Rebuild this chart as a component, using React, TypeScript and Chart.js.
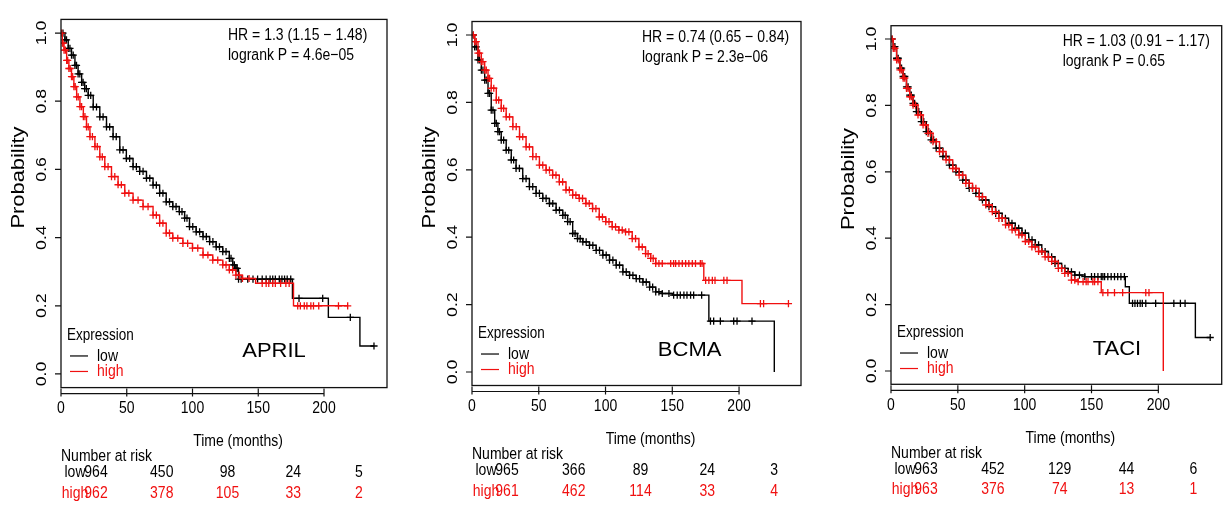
import React, { useEffect, useRef } from "react";
import { Chart, registerables } from "chart.js";
Chart.register(...registerables);

const FONT = '"Liberation Sans", Arial, Helvetica, sans-serif';
const SY = 1.18;
const BLACK = "#000000";
const RED = "#f01010";

const X_TICKS = [0, 50, 100, 150, 200];
const X_TICK_LABELS = ["0", "50", "100", "150", "200"];
const Y_TICKS = [0, 0.2, 0.4, 0.6, 0.8, 1.0];
const Y_TICK_LABELS = ["0.0", "0.2", "0.4", "0.6", "0.8", "1.0"];
const RISK_TIMES = [0, 50, 100, 150, 200];
const GROUP_LABELS = ["low", "high"];

// ---------- APRIL ----------
const APRIL_LOW_T = [0, 3, 5.5, 8, 10.6, 13, 15.7, 18, 20.7, 24.5, 29.5, 34.6, 39.6, 44.7, 49.7, 54.8, 59.8, 65, 70, 75, 80, 85, 90, 94, 97.7, 102.8, 108, 113, 118, 123, 128, 130.6, 133, 135, 176, 203.3, 227.3, 238];
const APRIL_LOW_S = [1, 0.98, 0.955, 0.935, 0.905, 0.88, 0.855, 0.837, 0.817, 0.783, 0.754, 0.725, 0.696, 0.657, 0.632, 0.608, 0.594, 0.574, 0.554, 0.53, 0.505, 0.491, 0.476, 0.457, 0.432, 0.417, 0.403, 0.388, 0.373, 0.359, 0.339, 0.32, 0.31, 0.278, 0.222, 0.166, 0.082, 0.082];
const APRIL_LOW_DENSE = 135;
const APRIL_LOW_CENSOR = [1.5, 4.2, 6.8, 9.3, 11.8, 14.3, 16.8, 19.3, 22.6, 27, 32, 37, 42, 47.2, 52.2, 57.3, 62.4, 67.5, 72.5, 77.5, 82.5, 87.5, 92, 95.8, 100.2, 105.4, 110.5, 115.5, 120.5, 125.5, 129.3, 131.8, 134, 137, 142, 146, 149.5, 153, 156, 159, 161, 163, 166, 168, 170, 172, 174.7, 181, 199, 220, 238];
const APRIL_HIGH_T = [0, 1, 2.3, 4.3, 6, 8, 9.8, 11.9, 14.4, 17, 19.4, 22, 25.8, 29.5, 33.3, 38.4, 43.4, 48.5, 54.8, 62.4, 70, 75, 80, 85, 92.7, 100, 108, 115.4, 123, 128, 133, 138, 148, 176.8, 218];
const APRIL_HIGH_S = [1, 0.97, 0.95, 0.92, 0.896, 0.872, 0.843, 0.813, 0.784, 0.755, 0.725, 0.696, 0.667, 0.637, 0.608, 0.579, 0.555, 0.53, 0.51, 0.491, 0.466, 0.442, 0.413, 0.398, 0.383, 0.369, 0.349, 0.334, 0.32, 0.305, 0.29, 0.28, 0.266, 0.2, 0.2];
const APRIL_HIGH_DENSE = 138;
const APRIL_HIGH_CENSOR = [0.5, 1.6, 3.3, 5.1, 7, 8.9, 10.8, 13.1, 15.7, 18.2, 20.7, 23.9, 27.6, 31.4, 35.8, 40.9, 45.9, 51.6, 58.6, 66.2, 72.5, 77.5, 82.5, 88.8, 96.3, 104, 111.7, 119.2, 125.5, 130.5, 135.5, 143, 153, 156, 158, 161, 163, 167, 171, 173.5, 180, 182, 185, 187, 190, 192, 196, 211, 218];
const APRIL_RISK_LOW = [964, 450, 98, 24, 5];
const APRIL_RISK_HIGH = [962, 378, 105, 33, 2];
const APRIL_STATS = ["HR = 1.3 (1.15 \u2212 1.48)", "logrank P = 4.6e\u221205"];

// ---------- BCMA ----------
const BCMA_LOW_T = [0, 2, 4.5, 7, 9.5, 12, 14.4, 17, 19.4, 21.9, 25.6, 29.4, 33, 38, 43, 48, 53, 58, 63, 68, 71.6, 75.4, 79, 83, 88, 93, 98, 103, 108, 113, 118, 123, 128, 133, 137.6, 142.5, 150, 177.4, 226.4];
const BCMA_LOW_S = [1, 0.965, 0.926, 0.896, 0.866, 0.827, 0.777, 0.738, 0.713, 0.688, 0.658, 0.629, 0.604, 0.574, 0.55, 0.53, 0.515, 0.5, 0.48, 0.465, 0.446, 0.411, 0.396, 0.386, 0.376, 0.361, 0.347, 0.332, 0.317, 0.297, 0.287, 0.277, 0.267, 0.252, 0.238, 0.233, 0.228, 0.151, 0];
const BCMA_LOW_DENSE = 142.5;
const BCMA_LOW_CENSOR = [1, 3.2, 5.7, 8.2, 10.7, 13.2, 15.7, 18.2, 20.6, 23.7, 27.5, 31.2, 35.5, 40.5, 45.5, 50.5, 55.5, 60.5, 65.5, 69.8, 73.5, 77.2, 81, 85.5, 90.5, 95.5, 100.5, 105.5, 110.5, 115.5, 120.5, 125.5, 130.5, 135.3, 140, 147.5, 151, 153.7, 156, 158.7, 161, 163.7, 166, 172, 178.6, 181, 186, 196, 198.5, 209.7];
const BCMA_HIGH_T = [0, 2, 4.5, 7, 9.5, 12, 14.4, 18.2, 21.9, 25.6, 30.6, 35.6, 40.5, 45.5, 50.5, 55.5, 60.4, 65.4, 70.4, 75.4, 80.3, 85.3, 90.3, 95.3, 100.2, 105, 110, 115, 120, 125, 130, 133.8, 137.6, 173.6, 202.2, 237];
const BCMA_HIGH_S = [1, 0.98, 0.946, 0.921, 0.896, 0.871, 0.842, 0.807, 0.782, 0.757, 0.728, 0.698, 0.668, 0.639, 0.614, 0.599, 0.584, 0.564, 0.54, 0.525, 0.515, 0.5, 0.485, 0.46, 0.446, 0.431, 0.421, 0.416, 0.396, 0.371, 0.351, 0.337, 0.322, 0.272, 0.203, 0.203];
const BCMA_HIGH_DENSE = 137.6;
const BCMA_HIGH_CENSOR = [1, 3.2, 5.7, 8.2, 10.7, 13.2, 16.3, 20, 23.7, 28.1, 33.1, 38, 43, 48, 53, 58, 62.9, 67.9, 72.9, 77.8, 82.8, 87.8, 92.8, 97.7, 102.6, 107.5, 112.5, 117.5, 122.5, 127.5, 131.9, 135.7, 140, 142.5, 148.8, 151, 152.5, 155, 157.5, 160, 162.4, 165, 167.4, 171, 172.3, 175, 177.4, 180, 182, 188.6, 191, 216, 218.4, 237];
const BCMA_RISK_LOW = [965, 366, 89, 24, 3];
const BCMA_RISK_HIGH = [961, 462, 114, 33, 4];
const BCMA_STATS = ["HR = 0.74 (0.65 \u2212 0.84)", "logrank P = 2.3e\u221206"];

// ---------- TACI ----------
const TACI_LOW_T = [0, 1.7, 4.2, 6.7, 9.1, 11.6, 14, 16.5, 19, 22.7, 26.4, 30, 33.8, 38.8, 43.7, 48.6, 53.6, 58.5, 63.5, 68.4, 73.3, 78.3, 83.2, 88, 93, 98, 103, 108, 112.8, 117.8, 122.7, 127.7, 132.6, 137.5, 145, 175.3, 178.3, 227.7, 238.8];
const TACI_LOW_S = [1, 0.977, 0.942, 0.912, 0.887, 0.856, 0.831, 0.806, 0.781, 0.751, 0.721, 0.696, 0.671, 0.646, 0.62, 0.6, 0.575, 0.55, 0.535, 0.515, 0.495, 0.475, 0.46, 0.445, 0.43, 0.415, 0.395, 0.38, 0.36, 0.344, 0.324, 0.309, 0.299, 0.289, 0.284, 0.254, 0.204, 0.101, 0.101];
const TACI_LOW_DENSE = 145;
const TACI_LOW_CENSOR = [0.8, 2.9, 5.4, 7.9, 10.3, 12.8, 15.2, 17.7, 20.8, 24.5, 28.2, 31.9, 36.3, 41.2, 46.1, 51.1, 56, 61, 66, 70.8, 75.8, 80.7, 85.6, 90.5, 95.5, 100.5, 105.5, 110.4, 115.3, 120.2, 125.2, 130.1, 135, 141, 150, 152.3, 154.8, 157.3, 158.5, 159.8, 162.2, 164.7, 167.2, 169.6, 172, 174.6, 180.7, 182.5, 184.4, 186.4, 188, 190.6, 198, 211.6, 216.5, 220, 238.8];
const TACI_HIGH_T = [0, 1.7, 4.2, 6.7, 9.1, 11.6, 14, 16.5, 20.2, 24, 27.7, 31.4, 36.3, 41.2, 46.2, 51, 56, 61, 66, 70.9, 75.8, 80.7, 85.7, 90.6, 95.6, 100.5, 105.4, 110.4, 115.3, 120.2, 125.2, 130, 135, 140, 157.3, 203.7];
const TACI_HIGH_S = [1, 0.972, 0.937, 0.907, 0.882, 0.851, 0.826, 0.801, 0.771, 0.741, 0.716, 0.691, 0.661, 0.636, 0.61, 0.59, 0.565, 0.55, 0.525, 0.5, 0.48, 0.46, 0.44, 0.425, 0.41, 0.39, 0.374, 0.36, 0.344, 0.33, 0.309, 0.294, 0.274, 0.269, 0.236, 0];
const TACI_HIGH_DENSE = 140;
const TACI_HIGH_CENSOR = [0.8, 2.9, 5.4, 7.9, 10.3, 12.8, 15.2, 18.3, 22.1, 25.8, 29.5, 33.8, 38.7, 43.7, 48.6, 53.5, 58.5, 63.5, 68.4, 73.3, 78.2, 83.2, 88.1, 93.1, 98, 103, 107.9, 112.8, 117.7, 122.7, 127.6, 132.5, 137.5, 143.7, 146, 147.4, 151, 152.3, 154.8, 158.5, 162.2, 167.2, 173.3, 190.6, 193];
const TACI_RISK_LOW = [963, 452, 129, 44, 6];
const TACI_RISK_HIGH = [963, 376, 74, 13, 1];
const TACI_STATS = ["HR = 1.03 (0.91 \u2212 1.17)", "logrank P = 0.65"];

type Curve = { t: number[]; s: number[]; dense: number; censor: number[]; color: string };
type Panel = {
  left: number;
  width: number;
  pad: { left: number; right: number; top: number; bottom: number };
  xMax: number;
  gene: string;
  geneT: number;
  stats: string[];
  low: Curve;
  high: Curve;
  riskLow: number[];
  riskHigh: number[];
};

const PANELS: Panel[] = [
  {
    left: 0, width: 405,
    pad: { left: 61, right: 18, top: 19.4, bottom: 117.4 },
    xMax: 247.9, gene: "APRIL", geneT: 162, stats: APRIL_STATS,
    low: { t: APRIL_LOW_T, s: APRIL_LOW_S, dense: APRIL_LOW_DENSE, censor: APRIL_LOW_CENSOR, color: BLACK },
    high: { t: APRIL_HIGH_T, s: APRIL_HIGH_S, dense: APRIL_HIGH_DENSE, censor: APRIL_HIGH_CENSOR, color: RED },
    riskLow: APRIL_RISK_LOW, riskHigh: APRIL_RISK_HIGH,
  },
  {
    left: 405, width: 425,
    pad: { left: 67, right: 29, top: 21.5, bottom: 119.5 },
    xMax: 246.4, gene: "BCMA", geneT: 163, stats: BCMA_STATS,
    low: { t: BCMA_LOW_T, s: BCMA_LOW_S, dense: BCMA_LOW_DENSE, censor: BCMA_LOW_CENSOR, color: BLACK },
    high: { t: BCMA_HIGH_T, s: BCMA_HIGH_S, dense: BCMA_HIGH_DENSE, censor: BCMA_HIGH_CENSOR, color: RED },
    riskLow: BCMA_RISK_LOW, riskHigh: BCMA_RISK_HIGH,
  },
  {
    left: 830, width: 397,
    pad: { left: 61, right: 2, top: 25.7, bottom: 120.7 },
    xMax: 247.4, gene: "TACI", geneT: 169, stats: TACI_STATS,
    low: { t: TACI_LOW_T, s: TACI_LOW_S, dense: TACI_LOW_DENSE, censor: TACI_LOW_CENSOR, color: BLACK },
    high: { t: TACI_HIGH_T, s: TACI_HIGH_S, dense: TACI_HIGH_DENSE, censor: TACI_HIGH_CENSOR, color: RED },
    riskLow: TACI_RISK_LOW, riskHigh: TACI_RISK_HIGH,
  },
];

function survAt(c: Curve, t: number): number {
  let v = c.s[0];
  for (let i = 0; i < c.t.length; i++) {
    if (c.t[i] <= t) v = c.s[i];
  }
  return v;
}

function txt(
  ctx: CanvasRenderingContext2D, s: string, x: number, y: number, size: number,
  color: string, align: CanvasTextAlign = "left", sy = SY, rot = false
) {
  ctx.save();
  ctx.translate(x, y);
  ctx.scale(1, sy);
  if (rot) ctx.rotate(-Math.PI / 2);
  ctx.font = `${size}px ${FONT}`;
  ctx.fillStyle = color;
  ctx.textAlign = align;
  ctx.textBaseline = "middle";
  ctx.fillText(s, 0, 0);
  ctx.restore();
}

function makePlugin(p: Panel) {
  return {
    id: "km" + p.gene,
    afterDraw(chart: any) {
      const ctx: CanvasRenderingContext2D = chart.ctx;
      const xs = chart.scales.x;
      const ys = chart.scales.y;
      const a = chart.chartArea;
      const X = (v: number) => xs.getPixelForValue(v);
      const Y = (v: number) => ys.getPixelForValue(v);
      ctx.save();
      // box
      ctx.strokeStyle = "#111";
      ctx.lineWidth = 1.3;
      ctx.strokeRect(a.left, a.top, a.right - a.left, a.bottom - a.top);
      // axis ticks
      ctx.lineWidth = 1.2;
      ctx.beginPath();
      Y_TICKS.forEach((v) => {
        ctx.moveTo(a.left - 6, Y(v));
        ctx.lineTo(a.left, Y(v));
      });
      const ay = a.bottom + 6;
      ctx.moveTo(X(X_TICKS[0]), ay);
      ctx.lineTo(X(X_TICKS[X_TICKS.length - 1]), ay);
      X_TICKS.forEach((v) => {
        ctx.moveTo(X(v), a.bottom + 1);
        ctx.lineTo(X(v), a.bottom + 9);
      });
      ctx.stroke();

      // tick labels
      Y_TICKS.forEach((v, i) => txt(ctx, Y_TICK_LABELS[i], a.left - 19.5, Y(v), 15, BLACK, "center", SY, true));
      X_TICKS.forEach((v, i) => txt(ctx, X_TICK_LABELS[i], X(v), a.bottom + 21, 14, BLACK, "center"));
      // axis titles
      txt(ctx, "Probability", a.left - 42.5, Y(0.5) - 26, 19, BLACK, "center", 1.15, true);
      txt(ctx, "Time (months)", (a.left + a.right) / 2 + 14, a.bottom + 54, 14, BLACK, "center");

      // stats
      txt(ctx, p.stats[0], a.right - 159, Y(1) + 2, 14, BLACK, "left");
      txt(ctx, p.stats[1], a.right - 159, Y(1) + 22, 14, BLACK, "left");

      // gene name
      txt(ctx, p.gene, X(p.geneT), Y(0.065), 22, BLACK, "center", 0.9);

      // legend
      txt(ctx, "Expression", a.left + 6, Y(0) - 38.5, 13.5, BLACK, "left");
      const legY = [Y(0) - 18, Y(0) - 2.5];
      const legC = [BLACK, RED];
      legY.forEach((ly, i) => {
        ctx.strokeStyle = legC[i];
        ctx.lineWidth = 1.2;
        ctx.beginPath();
        ctx.moveTo(a.left + 9, ly);
        ctx.lineTo(a.left + 27, ly);
        ctx.stroke();
        txt(ctx, GROUP_LABELS[i], a.left + 36, ly, 14, legC[i], "left");
      });

      // number at risk
      txt(ctx, "Number at risk", a.left, a.bottom + 69, 14, BLACK, "left");
      const rows = [p.riskLow, p.riskHigh];
      const rowY = [a.bottom + 85, a.bottom + 105.5];
      rows.forEach((r, ri) => {
        txt(ctx, GROUP_LABELS[ri], X(0) + 14, rowY[ri], 14, legC[ri], "center");
        r.forEach((n, i) => txt(ctx, String(n), X(RISK_TIMES[i]) + 35, rowY[ri], 14, legC[ri], "center"));
      });
      ctx.restore();
    },
  };
}

function KMPanel({ p }: { p: Panel }) {
  const ref = useRef<HTMLCanvasElement>(null);
  useEffect(() => {
    const mk = (c: Curve, order: number) => {
      const censorTimes = c.t.filter((t) => t > 0 && t <= c.dense).concat(c.censor);
      return [
        {
          data: c.t.map((t, i) => ({ x: t, y: c.s[i] })),
          borderColor: c.color,
          backgroundColor: c.color,
          borderWidth: 1.4,
          stepped: "before" as const,
          pointRadius: 0,
          fill: false,
          tension: 0,
          order,
        },
        {
          data: censorTimes.map((t) => ({ x: t, y: survAt(c, t) })),
          showLine: false,
          pointStyle: "cross" as const,
          pointRadius: 3.6,
          pointBorderColor: c.color,
          pointBorderWidth: 1.3,
          borderColor: c.color,
          backgroundColor: c.color,
          order,
        },
      ];
    };
    const chart = new Chart(ref.current as HTMLCanvasElement, {
      type: "line",
      data: { datasets: [...mk(p.low, 1), ...mk(p.high, 0)] as any },
      options: {
        animation: false,
        responsive: false,
        events: [],
        layout: { padding: p.pad },
        plugins: { legend: { display: false }, tooltip: { enabled: false } },
        scales: {
          x: { type: "linear", min: 0, max: p.xMax, display: false },
          y: { type: "linear", min: -0.04, max: 1.04, display: false },
        },
      },
      plugins: [makePlugin(p)],
    });
    return () => chart.destroy();
  }, [p]);
  return (
    <canvas
      ref={ref}
      width={p.width}
      height={505}
      style={{ position: "absolute", left: p.left, top: 0, width: p.width, height: 505 }}
    />
  );
}

export default function App() {
  return (
    <div style={{ position: "fixed", left: 0, top: 0, width: 1227, height: 505, background: "#ffffff", overflow: "hidden" }}>
      {PANELS.map((p) => (
        <KMPanel key={p.gene} p={p} />
      ))}
    </div>
  );
}
